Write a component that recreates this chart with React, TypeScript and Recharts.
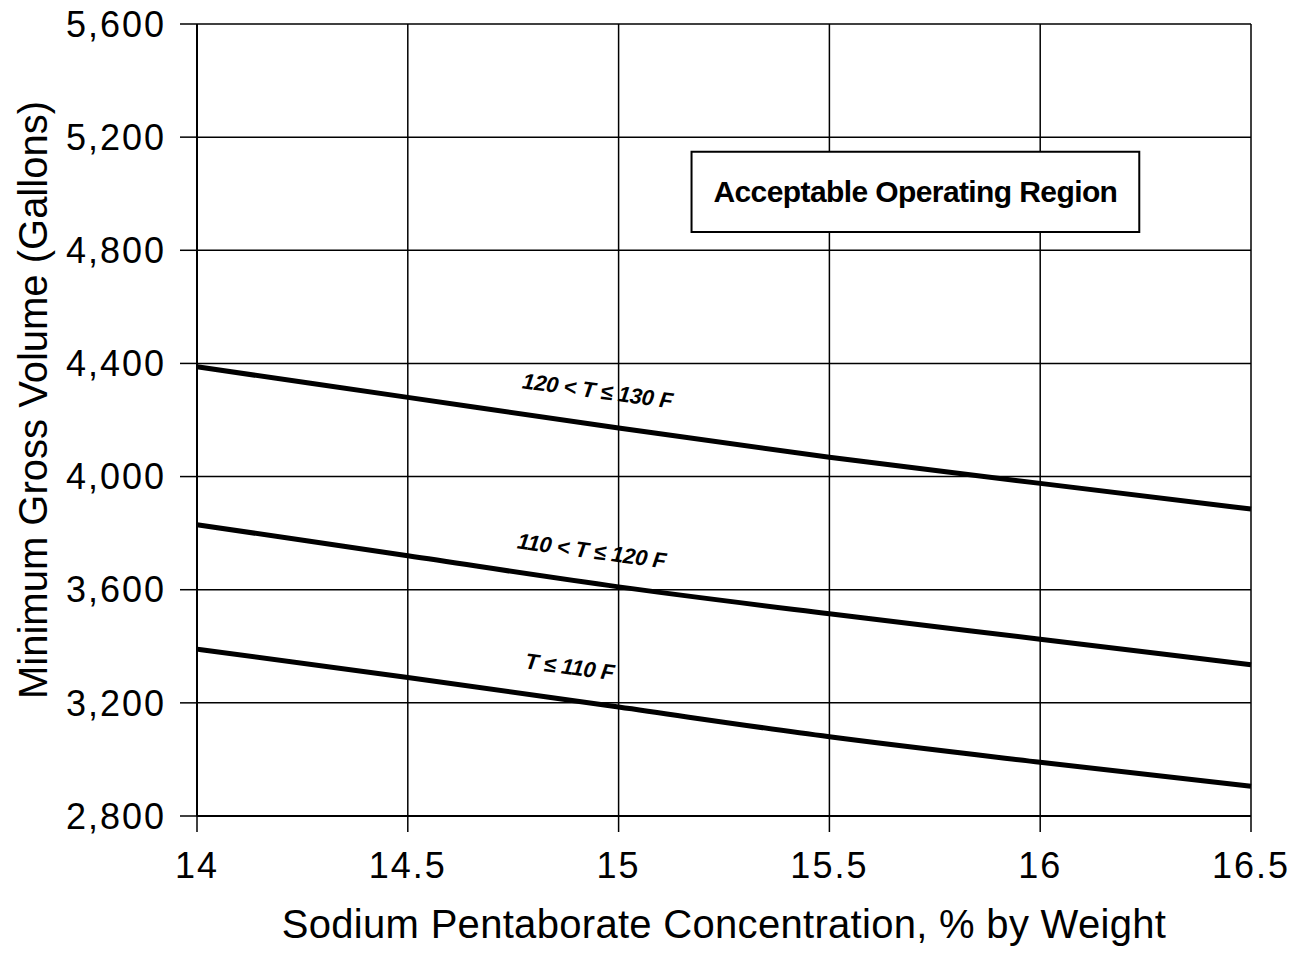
import React from "react";
import {
  LineChart,
  Line,
  XAxis,
  YAxis,
  CartesianGrid,
  ReferenceArea,
  ReferenceDot,
  Label,
} from "recharts";

// Sodium pentaborate concentration (% by weight)
const concentration = [14, 14.5, 15, 15.5, 16, 16.5];

// Minimum gross volume (gallons) per temperature band
const volT120to130 = [4388, 4280, 4172, 4068, 3976, 3885];
const volT110to120 = [3830, 3720, 3610, 3515, 3425, 3335];
const volTupTo110 = [3390, 3290, 3185, 3080, 2990, 2905];

const xTicks = [14, 14.5, 15, 15.5, 16, 16.5];
const yTicks = [2800, 3200, 3600, 4000, 4400, 4800, 5200, 5600];

// in-plot curve labels (data coords of label centre)
const curveLabels = [
  { text: "120 < T \u2264 130 F", x: 14.95, y: 4303 },
  { text: "110 < T \u2264 120 F", x: 14.936, y: 3737 },
  { text: "T \u2264 110 F", x: 14.884, y: 3327 },
];

const regionBox = { x1: 15.173, x2: 16.235, y1: 4865, y2: 5148, text: "Acceptable Operating Region" };

const FONT = "'Liberation Sans', Arial, Helvetica, sans-serif";

const chartData = concentration.map((c, i) => ({
  c,
  t130: volT120to130[i],
  t120: volT110to120[i],
  t110: volTupTo110[i],
}));

const SERIES = ["t130", "t120", "t110"];

function CurveLabel({ viewBox, text }: any) {
  const cx = viewBox.x + (viewBox.width || 0) / 2;
  const cy = viewBox.y + (viewBox.height || 0) / 2;
  return (
    <text
      x={cx}
      y={cy}
      textAnchor="middle"
      dominantBaseline="central"
      transform={`rotate(7.7 ${cx} ${cy})`}
      fontSize={22}
      fontWeight={700}
      fontStyle="italic"
      letterSpacing={-0.3}
      fontFamily={FONT}
      fill="#000"
    >
      {text}
    </text>
  );
}

function BoxLabel({ viewBox }: any) {
  const cx = viewBox.x + viewBox.width / 2;
  const cy = viewBox.y + viewBox.height / 2;
  return (
    <text
      x={cx}
      y={cy}
      textAnchor="middle"
      dominantBaseline="central"
      fontSize={30}
      fontWeight={700}
      letterSpacing={-0.6}
      fontFamily={FONT}
      fill="#000"
    >
      {regionBox.text}
    </text>
  );
}

export default function App() {
  return (
    <div style={{ position: "absolute", left: 0, top: 0, width: 1305, height: 953, background: "#fff" }}>
      <LineChart
        width={1305}
        height={953}
        data={chartData}
        margin={{ top: 24, right: 54, bottom: 0, left: 0 }}
        style={{ fontFamily: FONT }}
      >
        <CartesianGrid stroke="#000" strokeWidth={1.5} />
        <XAxis
          dataKey="c"
          type="number"
          domain={[14, 16.5]}
          ticks={xTicks}
          height={137}
          tickSize={16}
          tickMargin={20}
          axisLine={{ stroke: "#000", strokeWidth: 2 }}
          tickLine={{ stroke: "#000", strokeWidth: 1.5 }}
          tick={{ fill: "#000", fontSize: 36, letterSpacing: 2 }}
        >
          <Label
            value="Sodium Pentaborate Concentration, % by Weight"
            position="insideBottom"
            offset={15}
            fill="#000"
            fontSize={40}
            letterSpacing={0.3}
          />
        </XAxis>
        <YAxis
          type="number"
          domain={[2800, 5600]}
          ticks={yTicks}
          width={197}
          tickSize={17}
          tickMargin={14}
          axisLine={{ stroke: "#000", strokeWidth: 2 }}
          tickLine={{ stroke: "#000", strokeWidth: 1.5 }}
          tick={{ fill: "#000", fontSize: 36, letterSpacing: 2 }}
          tickFormatter={(v: number) => v.toLocaleString("en-US")}
        >
          <Label
            content={() => (
              <text
                x={33}
                y={400}
                textAnchor="middle"
                dominantBaseline="central"
                transform="rotate(-90 33 400)"
                fontSize={40}
                fontFamily={FONT}
                fill="#000"
              >
                Minimum Gross Volume (Gallons)
              </text>
            )}
          />
        </YAxis>
        <ReferenceArea
          x1={regionBox.x1}
          x2={regionBox.x2}
          y1={regionBox.y1}
          y2={regionBox.y2}
          fill="#fff"
          fillOpacity={1}
          stroke="#000"
          strokeWidth={2}
          label={<BoxLabel />}
        />
        {SERIES.map((k) => (
          <Line
            key={k}
            type="monotone"
            dataKey={k}
            stroke="#000"
            strokeWidth={5}
            dot={false}
            activeDot={false}
            isAnimationActive={false}
          />
        ))}
        {curveLabels.map((l) => (
          <ReferenceDot
            key={l.text}
            x={l.x}
            y={l.y}
            r={0}
            fill="none"
            stroke="none"
            label={<CurveLabel text={l.text} />}
          />
        ))}
      </LineChart>
    </div>
  );
}
